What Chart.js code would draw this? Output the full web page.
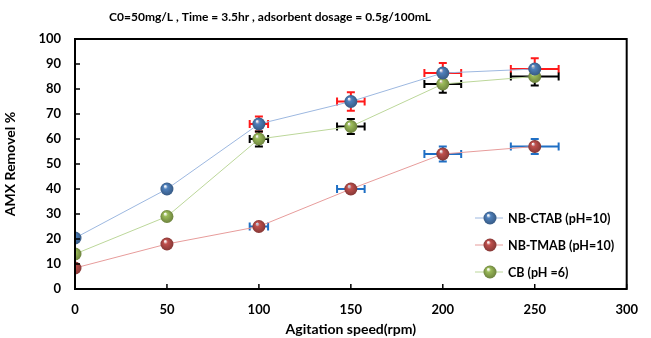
<!DOCTYPE html>
<html><head><meta charset="utf-8">
<script src="https://cdn.jsdelivr.net/npm/chart.js@4/dist/chart.umd.min.js"></script>
<style>html,body{margin:0;padding:0;background:#fff}#wrap{width:651px;height:338px}</style>
</head><body><div id="wrap"><canvas id="c" width="651" height="338"></canvas></div>
<script>
const titleText = "C0=50mg/L , Time = 3.5hr , adsorbent dosage = 0.5g/100mL";
const xTitle = "Agitation speed(rpm)";
const yTitle = "AMX Removel %";
const speeds = [0, 50, 100, 150, 200, 250];
const seriesLabels = ["NB-CTAB (pH=10)", "NB-TMAB (pH=10)", "CB (pH =6)"];
const ctabValues = [20.4, 40, 66, 75, 86.4, 88];
const tmabValues = [8.4, 18, 25, 40, 54, 57];
const cbValues   = [14, 29, 60, 65, 82, 85];
const ctabXErr = [0, 0, 5, 7.5, 10, 13];
const ctabYErr = [0, 0, 3, 3.7, 4, 4.3];
const tmabXErr = [0, 0, 5, 7.5, 10, 13];
const tmabYErr = [0, 0, 1, 1, 3, 3];
const cbXErr   = [0, 0, 5, 7.5, 10, 13];
const cbYErr   = [0, 0, 3, 3, 3.5, 3.6];
const xTicks = [0, 50, 100, 150, 200, 250, 300];
const yTicks = [0, 10, 20, 30, 40, 50, 60, 70, 80, 90, 100];

const FONT = "Lato, 'Open Sans', sans-serif";
const markerColors = ["#4f81bd", "#c0504d", "#9bbb59"];
const lineColors = ["#9db8e0", "#e79c9b", "#bcd79a"];
const errColors = ["#ff1a1a", "#1f6fc4", "#000000"];
const R = 6.5;

function shade(hex, f) {
  const n = parseInt(hex.slice(1), 16);
  let r = (n >> 16) & 255, g = (n >> 8) & 255, b = n & 255;
  r = Math.round(r * (1 + f)); g = Math.round(g * (1 + f)); b = Math.round(b * (1 + f));
  return "rgb(" + r + "," + g + "," + b + ")";
}
function sphere(ctx2, x, y, r, col) {
  const g = ctx2.createRadialGradient(x - r*0.3, y - r*0.45, r*0.05, x, y, r);
  g.addColorStop(0, "rgba(255,255,255,0.7)");
  g.addColorStop(0.3, col);
  g.addColorStop(1, shade(col, -0.3));
  return g;
}

const values = [ctabValues, tmabValues, cbValues];
const xErrs = [ctabXErr, tmabXErr, cbXErr];
const yErrs = [ctabYErr, tmabYErr, cbYErr];

const datasets = values.map((vals, i) => ({
  label: seriesLabels[i],
  data: speeds.map((s, j) => ({ x: s, y: vals[j] })),
  borderColor: lineColors[i],
  borderWidth: 1,
  pointRadius: R,
  pointHoverRadius: R,
  pointBorderWidth: 0,
  pointBackgroundColor: (c) => {
    if (c.type !== 'data' || !c.chart.chartArea) return markerColors[i];
    const ch = c.chart;
    const px = ch.scales.x.getPixelForValue(c.parsed.x);
    const py = ch.scales.y.getPixelForValue(c.parsed.y);
    return sphere(ch.ctx, px, py, R, markerColors[i]);
  },
  tension: 0
}));

const plugin = {
  id: 'extras',
  beforeDatasetsDraw(chart) {
    const { ctx, scales: { x, y } } = chart;
    ctx.save();
    ctx.lineWidth = 2;
    values.forEach((vals, i) => {
      ctx.strokeStyle = errColors[i];
      speeds.forEach((s, j) => {
        const px = x.getPixelForValue(s), py = y.getPixelForValue(vals[j]);
        const xe = xErrs[i][j], ye = yErrs[i][j];
        const cap = 4;
        if (xe > 0) {
          const x1 = x.getPixelForValue(s - xe), x2 = x.getPixelForValue(s + xe);
          ctx.beginPath();
          ctx.moveTo(x1, py); ctx.lineTo(x2, py);
          ctx.moveTo(x1, py - cap); ctx.lineTo(x1, py + cap);
          ctx.moveTo(x2, py - cap); ctx.lineTo(x2, py + cap);
          ctx.stroke();
        }
        if (ye > 0) {
          const y1 = y.getPixelForValue(vals[j] + ye), y2 = y.getPixelForValue(vals[j] - ye);
          ctx.beginPath();
          ctx.moveTo(px, y1); ctx.lineTo(px, y2);
          ctx.moveTo(px - cap, y1); ctx.lineTo(px + cap, y1);
          ctx.moveTo(px - cap, y2); ctx.lineTo(px + cap, y2);
          ctx.stroke();
        }
      });
    });
    ctx.restore();
  },
  afterDraw(chart) {
    const { ctx, chartArea: a, scales: { x, y } } = chart;
    ctx.save();
    ctx.strokeStyle = "#000";
    ctx.lineWidth = 2;
    ctx.strokeRect(a.left, a.top, a.right - a.left, a.bottom - a.top);
    ctx.lineWidth = 1.5;
    ctx.beginPath();
    yTicks.forEach(v => { const py = y.getPixelForValue(v); ctx.moveTo(a.left, py); ctx.lineTo(a.left + 5, py); });
    xTicks.forEach(v => { const px = x.getPixelForValue(v); ctx.moveTo(px, a.bottom); ctx.lineTo(px, a.bottom - 5); });
    ctx.stroke();
    ctx.fillStyle = "#000";
    ctx.font = "bold 12px " + FONT;
    ctx.textAlign = "center"; ctx.textBaseline = "middle";
    ctx.fillText(titleText, 270, 17);
    ctx.textAlign = "left";
    ctx.font = "bold 12.5px " + FONT;
    const ly = [218, 245, 272];
    seriesLabels.forEach((lab, i) => {
      ctx.strokeStyle = lineColors[i]; ctx.lineWidth = 1;
      ctx.beginPath(); ctx.moveTo(475, ly[i]); ctx.lineTo(503, ly[i]); ctx.stroke();
      ctx.fillStyle = sphere(ctx, 490, ly[i], R, markerColors[i]);
      ctx.beginPath(); ctx.arc(490, ly[i], R, 0, Math.PI * 2); ctx.fill();
      ctx.fillStyle = "#000";
      ctx.fillText(lab, 508, ly[i] + 1);
    });
    ctx.restore();
  }
};

new Chart(document.getElementById('c'), {
  type: 'line',
  data: { datasets },
  plugins: [plugin],
  options: {
    responsive: false,
    animation: false,
    events: [],
    layout: { padding: { left: 0, top: 39, right: 13, bottom: 0 } },
    plugins: { legend: { display: false }, tooltip: { enabled: false }, title: { display: false } },
    scales: {
      x: {
        type: 'linear', min: 0, max: 300,
        afterBuildTicks: (s) => { s.ticks = xTicks.map(v => ({ value: v })); },
        grid: { display: false, drawTicks: false },
        border: { display: false },
        ticks: { color: "#000", font: { family: FONT, weight: 'bold', size: 13 }, padding: 13, maxRotation: 0 },
        title: { display: true, text: xTitle, color: "#000", font: { family: FONT, weight: 'bold', size: 14 }, padding: { top: 0, bottom: 0 } },
        afterFit: (s) => { s.height = 49; }
      },
      y: {
        type: 'linear', min: 0, max: 100,
        afterBuildTicks: (s) => { s.ticks = yTicks.map(v => ({ value: v })); },
        grid: { display: false, drawTicks: false },
        border: { display: false },
        ticks: { color: "#000", font: { family: FONT, weight: 'bold', size: 13 }, padding: 14 },
        title: { display: true, text: yTitle, color: "#000", font: { family: FONT, weight: 'bold', size: 14 }, padding: { top: 2, bottom: 0 } },
        afterFit: (s) => { s.width = 75; }
      }
    }
  }
});
</script></body></html>
